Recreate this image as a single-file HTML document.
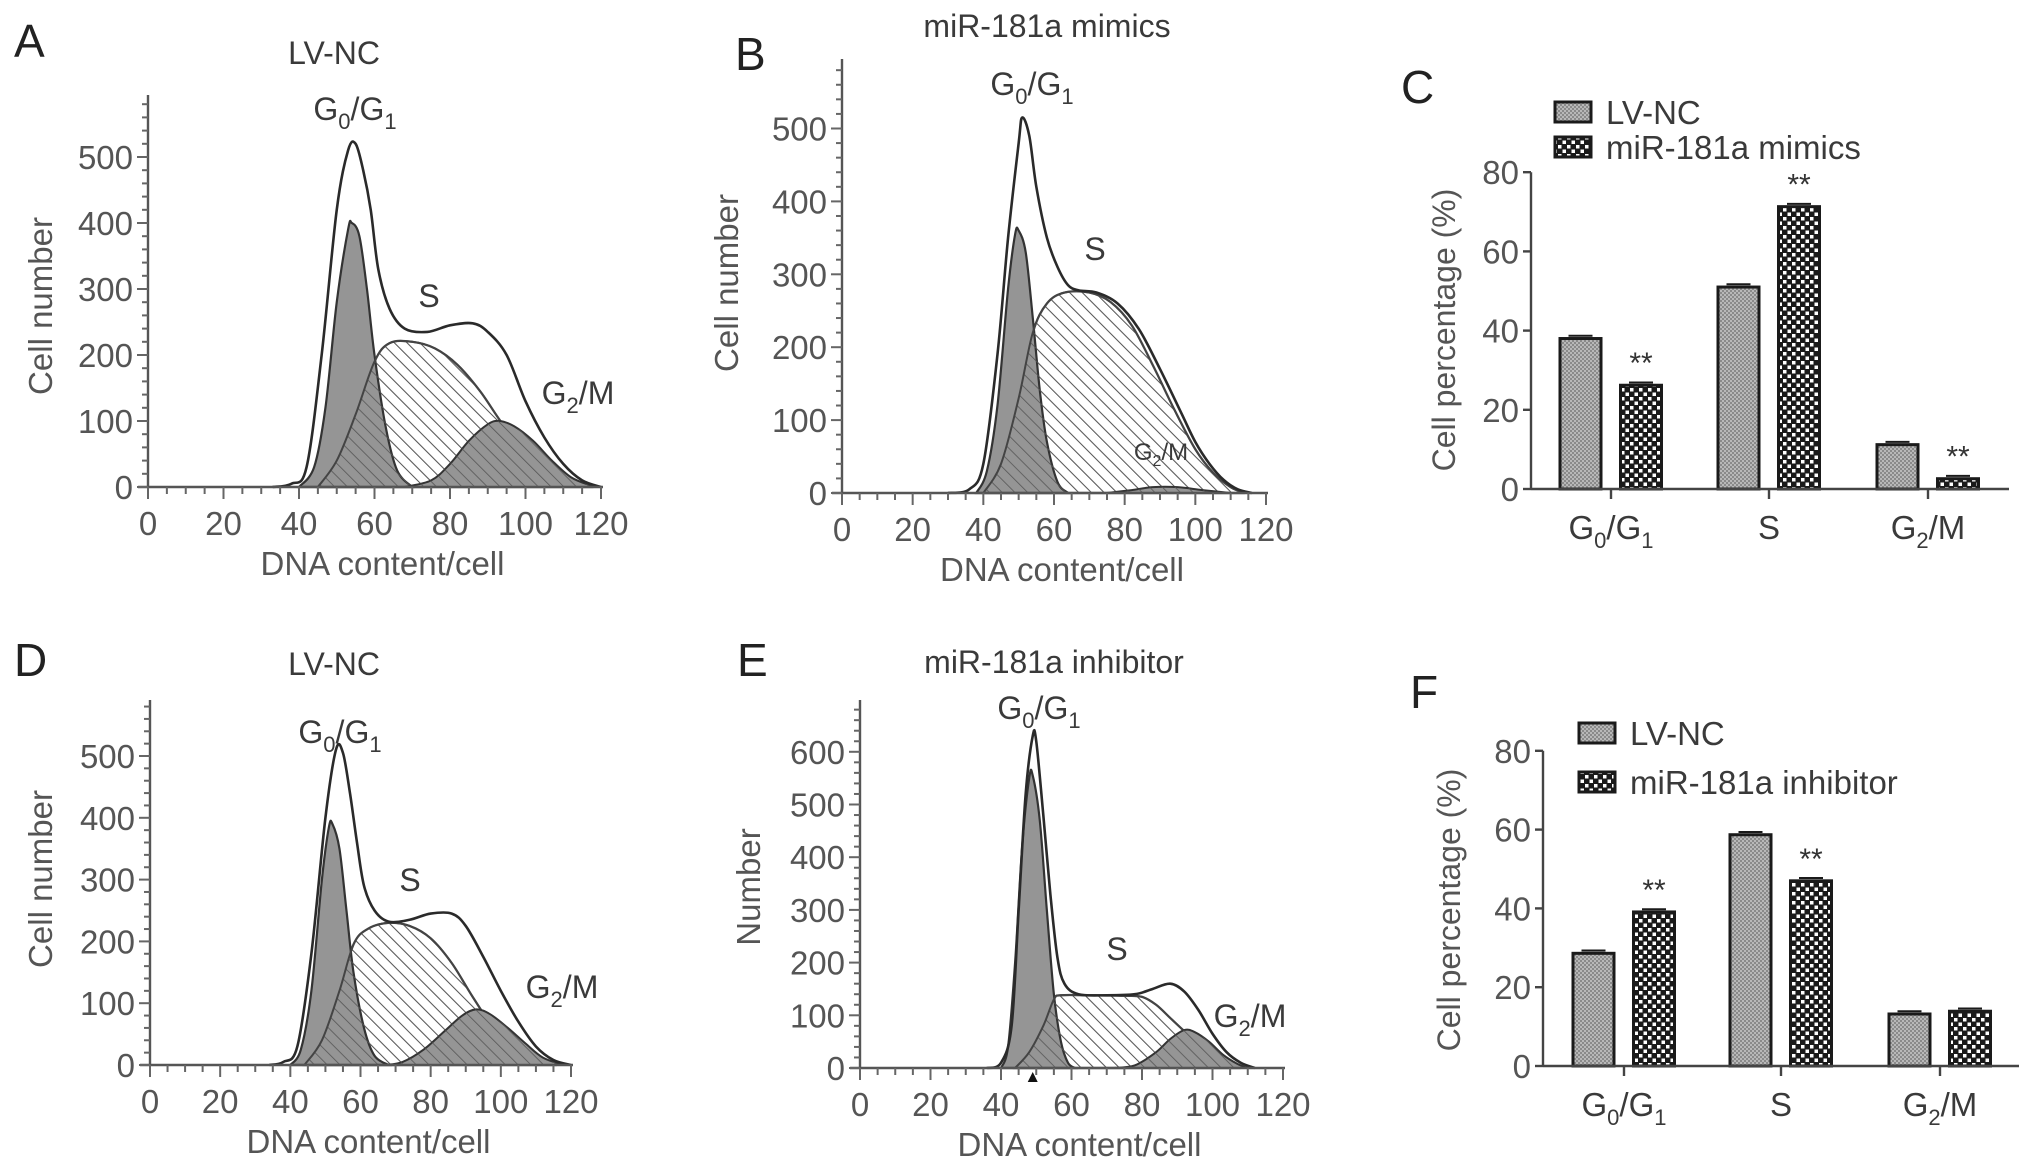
<!DOCTYPE html>
<html><head><meta charset="utf-8"><style>
html,body{margin:0;padding:0;background:#fff;}
svg{display:block;font-family:"Liberation Sans",Arial,sans-serif;}
</style></head><body>
<svg id="fig" width="2032" height="1163" viewBox="0 0 2032 1163" xmlns="http://www.w3.org/2000/svg">
<defs>
<pattern id="hatch" width="9" height="9" patternUnits="userSpaceOnUse" patternTransform="rotate(-45)">
<line x1="0" y1="0" x2="0" y2="9" stroke="#555" stroke-width="1.6"/>
</pattern>
<pattern id="fineGray" width="4" height="4" patternUnits="userSpaceOnUse">
<rect width="4" height="4" fill="#b8b8b8"/><rect width="2" height="2" fill="#8a8a8a"/><rect x="2" y="2" width="2" height="2" fill="#8a8a8a"/>
</pattern>
<pattern id="checker" width="9" height="9" patternUnits="userSpaceOnUse">
<rect width="9" height="9" fill="#1a1a1a"/><rect x="1" y="1" width="3.5" height="3.5" fill="#fff"/><rect x="5.5" y="5.5" width="3.5" height="3.5" fill="#fff"/>
</pattern>
</defs>
<g id="root"></g>
</svg>
<script>
// ---------- Histogram data (DNA content, cell count) ----------
const aEnvX = [33,38,42,46,50,53,55,57,59,61,64,68,74,80,86,90,95,100,105,110,115,120];
const aEnvY = [0,5,30,200,420,510,520,480,420,330,270,240,235,245,248,235,200,130,75,35,10,0];
const aG1X = [40,44,47,50,53,54,56,58,60,63,66,70];
const aG1Y = [0,30,120,280,390,400,380,300,200,90,25,0];
const aSX = [45,50,55,60,64,70,76,82,88,94,100,106,112,118];
const aSY = [0,40,110,190,218,220,210,185,145,95,55,25,8,0];
const aG2X = [68,75,80,85,90,93,97,102,107,112,117,120];
const aG2Y = [0,10,35,70,95,100,92,70,40,15,3,0];

const bEnvX = [30,36,40,44,47,50,51,53,55,58,61,64,67,72,78,84,90,96,100,104,108,112,116];
const bEnvY = [0,5,40,190,350,480,515,490,420,350,310,285,278,275,260,225,170,110,70,40,18,5,0];
const bG1X = [38,41,44,47,49,50,52,54,56,58,61,64];
const bG1Y = [0,30,120,280,355,360,330,240,140,70,15,0];
const bSX = [40,45,50,54,58,63,70,76,82,88,94,100,105,110,114];
const bSY = [0,40,130,220,260,275,275,262,230,175,115,60,28,8,0];
const bG2X = [75,82,88,95,102,110];
const bG2Y = [0,4,8,8,4,0];

const dEnvX = [34,38,42,46,50,53,55,57,59,61,64,68,74,80,86,90,95,100,105,110,115,120];
const dEnvY = [0,5,30,180,400,510,505,440,360,290,250,232,235,245,245,225,175,120,70,30,8,0];
const dG1X = [40,43,46,49,51,52,54,56,58,61,64,68];
const dG1Y = [0,25,120,300,385,390,350,250,150,60,15,0];
const dSX = [44,49,54,58,62,68,74,80,86,92,98,104,110,116];
const dSY = [0,40,120,195,220,230,225,205,165,110,60,28,10,0];
const dG2X = [67,72,78,84,89,93,97,102,107,112,118];
const dG2Y = [0,5,25,55,80,90,82,60,35,12,0];

const eEnvX = [36,40,43,45,47,49,50,52,54,56,58,62,70,78,83,88,92,96,100,104,108,112];
const eEnvY = [0,10,80,300,520,630,620,480,330,210,160,140,138,140,150,160,145,110,65,30,10,0];
const eG1X = [40,42,44,46,48,49,51,53,55,57,59,61];
const eG1Y = [0,40,200,420,550,555,470,300,140,50,10,0];
const eSX = [44,48,52,55,57,65,75,80,84,88,92,98,104,108];
const eSY = [0,30,80,130,138,138,137,135,120,95,70,35,12,0];
const eG2X = [72,78,84,88,92,95,99,103,107,110];
const eG2Y = [0,5,30,55,72,68,50,25,8,0];

// ---------- Bar chart data ----------
const barCategories = ["G0/G1","S","G2/M"];
const cLvnc = [38, 51, 11.2];
const cMimics = [26.2, 71.3, 2.6];
const cSig = [true, true, true];
const fLvnc = [28.6, 58.7, 13.2];
const fInhibitor = [39.1, 47, 13.9];
const fSig = [true, true, false];
const barTicks = [0, 20, 40, 60, 80];
const xTicks = [0, 20, 40, 60, 80, 100, 120];

const NS = "http://www.w3.org/2000/svg";
const root = document.getElementById('root');
const TXT = '#3a3a3a';
function el(tag, attrs, parent, text){
  const e = document.createElementNS(NS, tag);
  for (const k in attrs) e.setAttribute(k, attrs[k]);
  if (text !== undefined) e.textContent = text;
  (parent || root).appendChild(e);
  return e;
}
function smoothPath(pts){
  let d = "M" + pts[0][0] + "," + pts[0][1];
  for (let i = 0; i < pts.length - 1; i++){
    const p0 = pts[i-1] || pts[i], p1 = pts[i], p2 = pts[i+1], p3 = pts[i+2] || p2;
    const c1x = p1[0] + (p2[0]-p0[0])/6, c1y = p1[1] + (p2[1]-p0[1])/6;
    const c2x = p2[0] - (p3[0]-p1[0])/6, c2y = p2[1] - (p3[1]-p1[1])/6;
    d += " C" + c1x + "," + c1y + " " + c2x + "," + c2y + " " + p2[0] + "," + p2[1];
  }
  return d;
}
function phaseLabel(g, x, y, kind, fs, name){
  const t = el('text', {x:x, y:y, 'font-size':fs, fill:TXT, 'text-anchor':'middle'}, g);
  
  
  const sub = Math.round(fs*0.68);
  const dy = Math.round(fs*0.27);
  if (kind === 'G0/G1'){
    t.appendChild(document.createTextNode('G'));
    el('tspan', {dy: dy, 'font-size': sub}, t, '0');
    el('tspan', {dy: -dy}, t, '/G');
    el('tspan', {dy: dy, 'font-size': sub}, t, '1');
  } else if (kind === 'G2/M'){
    t.appendChild(document.createTextNode('G'));
    el('tspan', {dy: dy, 'font-size': sub}, t, '2');
    el('tspan', {dy: -dy}, t, '/M');
  } else {
    t.textContent = kind;
  }
  return t;
}
function panelLetter(x, y, letter){
  const t = el('text', {x:x, y:y, 'font-size':46, fill:'#222'}, root, letter);
  
  
}

// ---------- Histogram panel ----------
function histogram(cfg){
  const g = el('g', {});
  
  
  const sx = v => cfg.x0 + v*(cfg.x120 - cfg.x0)/120;
  const sy = v => cfg.y0 - v*cfg.per100/100;
  const pts = (X, Y) => X.map((x,i) => [sx(x), sy(Y[i])]);
  const s = el('path', {d: smoothPath(pts(cfg.sX, cfg.sY)) + " Z", fill:'url(#hatch)', stroke:'#444', 'stroke-width':2.2}, g);
  
  
  const g1 = el('path', {d: smoothPath(pts(cfg.g1X, cfg.g1Y)) + " Z", fill:'#959595', stroke:'#333', 'stroke-width':2.2}, g);
  
  
  const s2 = el('path', {d: smoothPath(pts(cfg.sX, cfg.sY)) + " Z", fill:'url(#hatch)', stroke:'#444', 'stroke-width':2}, g);
  
  
  const g2a = el('path', {d: smoothPath(pts(cfg.g2X, cfg.g2Y)) + " Z", fill:'#959595', stroke:'#333', 'stroke-width':2}, g);
  
  
  const g2b = el('path', {d: smoothPath(pts(cfg.g2X, cfg.g2Y)) + " Z", fill:'url(#hatch)', stroke:'none'}, g);
  
  
  const env = el('path', {d: smoothPath(pts(cfg.envX, cfg.envY)), fill:'none', stroke:'#2a2a2a', 'stroke-width':2.6}, g);
  
  
  const ya = el('line', {x1:cfg.x0, y1:cfg.top, x2:cfg.x0, y2:cfg.y0, stroke:'#555', 'stroke-width':2.4}, g);
  
  
  const xa = el('line', {x1:cfg.x0-10, y1:cfg.y0, x2:cfg.x120+2, y2:cfg.y0, stroke:'#555', 'stroke-width':2.4}, g);
  
  
  for (let v = 0; sy(v) >= cfg.top; v += 20){
    const major = v % 100 === 0 && v <= cfg.maxTick;
    el('line', {x1:cfg.x0 - (major ? 11 : 6), y1:sy(v), x2:cfg.x0, y2:sy(v), stroke:'#666', 'stroke-width':2}, g);
    if (major){
      const t = el('text', {x:cfg.x0-15, y:sy(v)+12, 'font-size':33, fill:'#555', 'text-anchor':'end'}, g, String(v));
      
      
    }
  }
  for (let v = 0; v <= 120; v += 5){
    const major = v % 20 === 0;
    el('line', {x1:sx(v), y1:cfg.y0, x2:sx(v), y2:cfg.y0 + (major ? 12 : 7), stroke:'#666', 'stroke-width':2}, g);
  }
  xTicks.forEach(v => {
    const t = el('text', {x:sx(v), y:cfg.y0+48, 'font-size':33, fill:'#555', 'text-anchor':'middle'}, g, String(v));
    
    
  });
  const yl = el('text', {x:0, y:0, 'font-size':33, fill:'#555', 'text-anchor':'middle', transform:'translate(' + cfg.ylX + ',' + cfg.ylY + ') rotate(-90)'}, g, cfg.yTitle);
  
  
  const xl = el('text', {x:(cfg.x0+cfg.x120)/2 + 8, y:cfg.y0+88, 'font-size':33, fill:'#555', 'text-anchor':'middle'}, g, 'DNA content/cell');
  
  
  const ti = el('text', {x:cfg.titleX, y:cfg.titleY, 'font-size':32, fill:TXT, 'text-anchor':'middle'}, g, cfg.title);
  
  
  phaseLabel(g, cfg.lg1[0], cfg.lg1[1], 'G0/G1', 32, 'g0g1-label');
  phaseLabel(g, cfg.ls[0], cfg.ls[1], 'S', 32, 's-label');
  phaseLabel(g, cfg.lg2[0], cfg.lg2[1], 'G2/M', cfg.lg2[2], 'g2m-label');
  if (cfg.marker){
    const m = el('path', {d:'M' + (sx(cfg.marker)-5) + ',' + (cfg.y0+14) + ' L' + (sx(cfg.marker)+5) + ',' + (cfg.y0+14) + ' L' + sx(cfg.marker) + ',' + (cfg.y0+4) + ' Z', fill:'#111'}, g);
    
    
  }
}

histogram({name:'histogram-a', x0:148, x120:601, y0:487, per100:66, top:95, maxTick:500,
  envX:aEnvX, envY:aEnvY, g1X:aG1X, g1Y:aG1Y, sX:aSX, sY:aSY, g2X:aG2X, g2Y:aG2Y,
  yTitle:'Cell number', ylX:52, ylY:306, title:'LV-NC', titleX:334, titleY:64,
  lg1:[355,120], ls:[429,307], lg2:[578,404,32]});
histogram({name:'histogram-b', x0:842, x120:1266, y0:493, per100:72.9, top:59, maxTick:500,
  envX:bEnvX, envY:bEnvY, g1X:bG1X, g1Y:bG1Y, sX:bSX, sY:bSY, g2X:bG2X, g2Y:bG2Y,
  yTitle:'Cell number', ylX:738, ylY:283, title:'miR-181a mimics', titleX:1047, titleY:37,
  lg1:[1032,95], ls:[1095,260], lg2:[1161,460,24]});
histogram({name:'histogram-d', x0:150, x120:571, y0:1065, per100:61.8, top:700, maxTick:500,
  envX:dEnvX, envY:dEnvY, g1X:dG1X, g1Y:dG1Y, sX:dSX, sY:dSY, g2X:dG2X, g2Y:dG2Y,
  yTitle:'Cell number', ylX:52, ylY:879, title:'LV-NC', titleX:334, titleY:675,
  lg1:[340,743], ls:[410,891], lg2:[562,998,32]});
histogram({name:'histogram-e', x0:860, x120:1283, y0:1068, per100:52.7, top:700, maxTick:600,
  envX:eEnvX, envY:eEnvY, g1X:eG1X, g1Y:eG1Y, sX:eSX, sY:eSY, g2X:eG2X, g2Y:eG2Y,
  yTitle:'Number', ylX:760, ylY:887, title:'miR-181a inhibitor', titleX:1054, titleY:673,
  lg1:[1039,719], ls:[1117,960], lg2:[1250,1027,32], marker:49});

// ---------- Bar chart panel ----------
function barChart(cfg){
  const g = el('g', {});
  
  
  const sy = v => cfg.y0 - v*cfg.perUnit;
  const bw = 41;
  barCategories.forEach((c, i) => {
    const cx = cfg.groups[i];
    [[cfg.a, -30.5, 'url(#fineGray)', 'bar-lvnc-'], [cfg.b, 30, 'url(#checker)', 'bar-treated-']].forEach(s => {
      const v = s[0][i];
      const r = el('rect', {x:cx + s[1] - bw/2, y:sy(v), width:bw, height:cfg.y0 - sy(v), fill:s[2], stroke:'#1a1a1a', 'stroke-width':3}, g);
      
      
      const cap = el('line', {x1:cx + s[1] - 12, y1:sy(v + 0.7), x2:cx + s[1] + 12, y2:sy(v + 0.7), stroke:'#1a1a1a', 'stroke-width':2}, g);
      
      
    });
    if (cfg.sig[i]){
      const st = el('text', {x:cx + 30, y:sy(cfg.b[i]) - 12, 'font-size':30, fill:'#333', 'text-anchor':'middle'}, g, '**');
      
      
    }
    el('line', {x1:cx, y1:cfg.y0, x2:cx, y2:cfg.y0+10, stroke:'#444', 'stroke-width':2.4}, g);
    phaseLabel(g, cx, cfg.y0 + 50, c, 33, 'category-label');
  });
  const ya = el('line', {x1:cfg.x0, y1:sy(80), x2:cfg.x0, y2:cfg.y0, stroke:'#444', 'stroke-width':2.4}, g);
  
  
  const xa = el('line', {x1:cfg.x0, y1:cfg.y0, x2:cfg.xEnd, y2:cfg.y0, stroke:'#444', 'stroke-width':2.4}, g);
  
  
  barTicks.forEach(v => {
    el('line', {x1:cfg.x0-8, y1:sy(v), x2:cfg.x0, y2:sy(v), stroke:'#444', 'stroke-width':2.4}, g);
    const t = el('text', {x:cfg.x0-12, y:sy(v)+12, 'font-size':33, fill:'#555', 'text-anchor':'end'}, g, String(v));
    
    
  });
  const yl = el('text', {x:0, y:0, 'font-size':32, fill:'#555', 'text-anchor':'middle', transform:'translate(' + cfg.ylX + ',' + cfg.ylY + ') rotate(-90)'}, g, 'Cell percentage (%)');
  
  
  [[cfg.leg[0], 'url(#fineGray)', 'LV-NC'], [cfg.leg[1], 'url(#checker)', cfg.bName]].forEach(L => {
    const r = el('rect', {x:cfg.legX, y:L[0], width:36, height:20, fill:L[1], stroke:'#1a1a1a', 'stroke-width':3}, g);
    
    
    const t = el('text', {x:cfg.legX+51, y:L[0]+22, 'font-size':33, fill:TXT}, g, L[2]);
    
    
  });
}
barChart({name:'bar-chart-c', x0:1531, xEnd:2009, y0:489, perUnit:3.96, groups:[1611,1769,1928],
  a:cLvnc, b:cMimics, sig:cSig, bName:'miR-181a mimics', legX:1555, leg:[102,137], ylX:1455, ylY:330});
barChart({name:'bar-chart-f', x0:1543, xEnd:2019, y0:1066, perUnit:3.94, groups:[1624,1781,1940],
  a:fLvnc, b:fInhibitor, sig:fSig, bName:'miR-181a inhibitor', legX:1579, leg:[723,772], ylX:1460, ylY:910});

panelLetter(14, 57, 'A');
panelLetter(735, 70, 'B');
panelLetter(1401, 103, 'C');
panelLetter(14, 676, 'D');
panelLetter(737, 676, 'E');
panelLetter(1410, 708, 'F');
</script>
</body></html>
